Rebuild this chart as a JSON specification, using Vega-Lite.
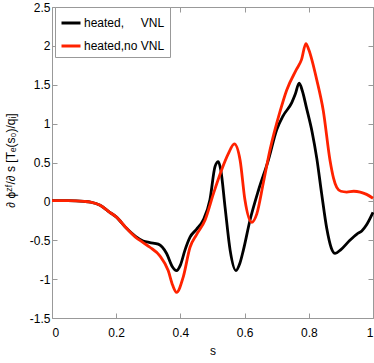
{
  "$schema": "https://vega.github.io/schema/vega-lite/v6.json",
  "width": 321,
  "height": 311,
  "autosize": {"type": "none"},
  "padding": {"left": 52, "top": 7, "right": 1, "bottom": 45},
  "background": "white",
  "config": {
    "view": {"stroke": null},
    "font": "Liberation Sans",
    "axis": {
      "domainColor": "#999999",
      "tickColor": "#999999",
      "tickSize": -5,
      "grid": false,
      "labelFont": "Liberation Sans",
      "labelFontSize": 12,
      "labelColor": "black",
      "titleFont": "Liberation Sans",
      "titleFontWeight": "normal",
      "titleColor": "black"
    },
    "legend": {
      "orient": "none",
      "legendX": 3,
      "legendY": 0,
      "strokeColor": "#999999",
      "fillColor": "white",
      "padding": 5,
      "symbolType": "stroke",
      "symbolStrokeWidth": 3,
      "symbolSize": 361,
      "labelOffset": 2,
      "labelFont": "Liberation Sans",
      "labelFontSize": 12,
      "labelColor": "black",
      "rowPadding": 6,
      "title": null
    }
  },
  "data": {
    "values": [
      {"s": 0, "v": 0.01, "series": "heated,     VNL"},
      {"s": 0.05, "v": 0.01, "series": "heated,     VNL"},
      {"s": 0.1, "v": 0.0, "series": "heated,     VNL"},
      {"s": 0.12, "v": -0.01, "series": "heated,     VNL"},
      {"s": 0.15, "v": -0.05, "series": "heated,     VNL"},
      {"s": 0.18, "v": -0.14, "series": "heated,     VNL"},
      {"s": 0.2, "v": -0.2, "series": "heated,     VNL"},
      {"s": 0.233, "v": -0.35, "series": "heated,     VNL"},
      {"s": 0.26, "v": -0.45, "series": "heated,     VNL"},
      {"s": 0.284, "v": -0.51, "series": "heated,     VNL"},
      {"s": 0.305, "v": -0.53, "series": "heated,     VNL"},
      {"s": 0.331, "v": -0.55, "series": "heated,     VNL"},
      {"s": 0.357, "v": -0.67, "series": "heated,     VNL"},
      {"s": 0.375, "v": -0.84, "series": "heated,     VNL"},
      {"s": 0.388, "v": -0.89, "series": "heated,     VNL"},
      {"s": 0.4, "v": -0.82, "series": "heated,     VNL"},
      {"s": 0.414, "v": -0.63, "series": "heated,     VNL"},
      {"s": 0.43, "v": -0.46, "series": "heated,     VNL"},
      {"s": 0.45, "v": -0.36, "series": "heated,     VNL"},
      {"s": 0.471, "v": -0.24, "series": "heated,     VNL"},
      {"s": 0.492, "v": 0.02, "series": "heated,     VNL"},
      {"s": 0.508, "v": 0.45, "series": "heated,     VNL"},
      {"s": 0.518, "v": 0.51, "series": "heated,     VNL"},
      {"s": 0.526, "v": 0.4, "series": "heated,     VNL"},
      {"s": 0.539, "v": -0.07, "series": "heated,     VNL"},
      {"s": 0.555, "v": -0.63, "series": "heated,     VNL"},
      {"s": 0.573, "v": -0.89, "series": "heated,     VNL"},
      {"s": 0.585, "v": -0.8, "series": "heated,     VNL"},
      {"s": 0.596, "v": -0.63, "series": "heated,     VNL"},
      {"s": 0.617, "v": -0.24, "series": "heated,     VNL"},
      {"s": 0.643, "v": 0.14, "series": "heated,     VNL"},
      {"s": 0.674, "v": 0.53, "series": "heated,     VNL"},
      {"s": 0.7, "v": 0.92, "series": "heated,     VNL"},
      {"s": 0.72, "v": 1.1, "series": "heated,     VNL"},
      {"s": 0.747, "v": 1.27, "series": "heated,     VNL"},
      {"s": 0.758, "v": 1.38, "series": "heated,     VNL"},
      {"s": 0.77, "v": 1.52, "series": "heated,     VNL"},
      {"s": 0.78, "v": 1.42, "series": "heated,     VNL"},
      {"s": 0.793, "v": 1.2, "series": "heated,     VNL"},
      {"s": 0.81, "v": 0.9, "series": "heated,     VNL"},
      {"s": 0.825, "v": 0.55, "series": "heated,     VNL"},
      {"s": 0.84, "v": 0.1, "series": "heated,     VNL"},
      {"s": 0.856, "v": -0.35, "series": "heated,     VNL"},
      {"s": 0.87, "v": -0.6, "series": "heated,     VNL"},
      {"s": 0.882, "v": -0.67, "series": "heated,     VNL"},
      {"s": 0.9, "v": -0.62, "series": "heated,     VNL"},
      {"s": 0.928, "v": -0.5, "series": "heated,     VNL"},
      {"s": 0.95, "v": -0.42, "series": "heated,     VNL"},
      {"s": 0.965, "v": -0.38, "series": "heated,     VNL"},
      {"s": 0.98, "v": -0.3, "series": "heated,     VNL"},
      {"s": 1.0, "v": -0.14, "series": "heated,     VNL"},
      {"s": 0, "v": 0.01, "series": "heated,no VNL"},
      {"s": 0.05, "v": 0.01, "series": "heated,no VNL"},
      {"s": 0.1, "v": 0.0, "series": "heated,no VNL"},
      {"s": 0.12, "v": -0.01, "series": "heated,no VNL"},
      {"s": 0.15, "v": -0.05, "series": "heated,no VNL"},
      {"s": 0.18, "v": -0.14, "series": "heated,no VNL"},
      {"s": 0.2, "v": -0.2, "series": "heated,no VNL"},
      {"s": 0.233, "v": -0.35, "series": "heated,no VNL"},
      {"s": 0.26, "v": -0.46, "series": "heated,no VNL"},
      {"s": 0.284, "v": -0.53, "series": "heated,no VNL"},
      {"s": 0.305, "v": -0.59, "series": "heated,no VNL"},
      {"s": 0.336, "v": -0.7, "series": "heated,no VNL"},
      {"s": 0.362, "v": -0.89, "series": "heated,no VNL"},
      {"s": 0.376, "v": -1.08, "series": "heated,no VNL"},
      {"s": 0.388, "v": -1.17, "series": "heated,no VNL"},
      {"s": 0.409, "v": -0.97, "series": "heated,no VNL"},
      {"s": 0.43, "v": -0.59, "series": "heated,no VNL"},
      {"s": 0.45, "v": -0.43, "series": "heated,no VNL"},
      {"s": 0.477, "v": -0.24, "series": "heated,no VNL"},
      {"s": 0.503, "v": 0.1, "series": "heated,no VNL"},
      {"s": 0.528, "v": 0.4, "series": "heated,no VNL"},
      {"s": 0.549, "v": 0.61, "series": "heated,no VNL"},
      {"s": 0.568, "v": 0.74, "series": "heated,no VNL"},
      {"s": 0.586, "v": 0.53, "series": "heated,no VNL"},
      {"s": 0.601, "v": 0.02, "series": "heated,no VNL"},
      {"s": 0.622, "v": -0.27, "series": "heated,no VNL"},
      {"s": 0.638, "v": -0.16, "series": "heated,no VNL"},
      {"s": 0.658, "v": 0.23, "series": "heated,no VNL"},
      {"s": 0.679, "v": 0.66, "series": "heated,no VNL"},
      {"s": 0.71, "v": 1.15, "series": "heated,no VNL"},
      {"s": 0.731, "v": 1.43, "series": "heated,no VNL"},
      {"s": 0.762, "v": 1.7, "series": "heated,no VNL"},
      {"s": 0.777, "v": 1.82, "series": "heated,no VNL"},
      {"s": 0.791, "v": 2.03, "series": "heated,no VNL"},
      {"s": 0.8, "v": 1.95, "series": "heated,no VNL"},
      {"s": 0.825, "v": 1.56, "series": "heated,no VNL"},
      {"s": 0.845, "v": 1.17, "series": "heated,no VNL"},
      {"s": 0.866, "v": 0.53, "series": "heated,no VNL"},
      {"s": 0.877, "v": 0.3, "series": "heated,no VNL"},
      {"s": 0.887, "v": 0.18, "series": "heated,no VNL"},
      {"s": 0.9, "v": 0.13, "series": "heated,no VNL"},
      {"s": 0.918, "v": 0.12, "series": "heated,no VNL"},
      {"s": 0.94, "v": 0.13, "series": "heated,no VNL"},
      {"s": 0.96, "v": 0.12, "series": "heated,no VNL"},
      {"s": 0.98, "v": 0.09, "series": "heated,no VNL"},
      {"s": 1.0, "v": 0.04, "series": "heated,no VNL"}
    ]
  },
  "resolve": {"axis": {"x": "independent", "y": "independent"}},
  "layer": [
    {
      "mark": {"type": "line", "interpolate": "monotone", "strokeWidth": 2.8},
      "encoding": {
        "x": {
          "field": "s", "type": "quantitative",
          "scale": {"domain": [0, 1], "nice": false},
          "axis": {"orient": "bottom", "values": [0, 0.2, 0.4, 0.6, 0.8, 1], "labelExpr": "'' + datum.value", "title": "s", "titleFontSize": 12, "labelPadding": 14, "titlePadding": 7}
        },
        "y": {
          "field": "v", "type": "quantitative",
          "scale": {"domain": [-1.5, 2.5], "nice": false},
          "axis": {"orient": "left", "values": [-1.5, -1, -0.5, 0, 0.5, 1, 1.5, 2, 2.5], "labelExpr": "'' + datum.value", "title": "∂ ϕᶻᶠ/∂ s [Tₑ(s₀)/qᵢ]", "titleFontSize": 12, "labelPadding": 7, "titlePadding": 12, "titleAnchor": "middle", "titleY": 153}
        },
        "color": {
          "field": "series", "type": "nominal",
          "scale": {"domain": ["heated,     VNL", "heated,no VNL"], "range": ["#000000", "#ff2200"]},
          "legend": {"labelExpr": "replace(datum.label, '     ', '\u00a0\u00a0\u00a0\u00a0\u00a0')"}
        }
      }
    },
    {
      "mark": {"type": "line", "strokeOpacity": 0},
      "encoding": {
        "x": {
          "field": "s", "type": "quantitative",
          "scale": {"domain": [0, 1], "nice": false},
          "axis": {"orient": "top", "values": [0, 0.2, 0.4, 0.6, 0.8, 1], "labels": false, "title": null}
        },
        "y": {
          "field": "v", "type": "quantitative",
          "scale": {"domain": [-1.5, 2.5], "nice": false},
          "axis": {"orient": "right", "values": [-1.5, -1, -0.5, 0, 0.5, 1, 1.5, 2, 2.5], "labels": false, "title": null}
        },
        "detail": {"field": "series"}
      }
    }
  ]
}
